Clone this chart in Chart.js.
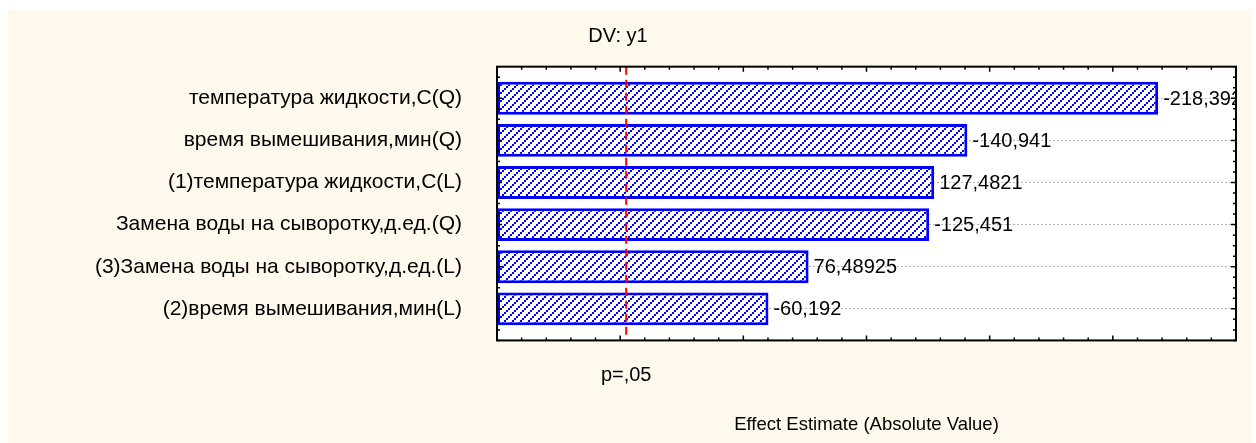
<!DOCTYPE html>
<html>
<head>
<meta charset="utf-8">
<script src="https://cdn.jsdelivr.net/npm/chart.js@4.4.1/dist/chart.umd.min.js"></script>
<style>
  html, body { margin: 0; padding: 0; background: #ffffff; }
  #wrap { width: 1256px; height: 443px; position: relative; }
</style>
</head>
<body>
<div id="wrap"><canvas id="c" width="1256" height="443"></canvas></div>
<script>
// ---- data ----
const categories = [
  'температура жидкости,С(Q)',
  'время вымешивания,мин(Q)',
  '(1)температура жидкости,С(L)',
  'Замена воды на сыворотку,д.ед.(Q)',
  '(3)Замена воды на сыворотку,д.ед.(L)',
  '(2)время вымешивания,мин(L)'
];
const effects = [-218.392, -140.941, 127.4821, -125.451, 76.48925, -60.192];
const absEffects = effects.map(v => Math.abs(v));
const valueLabels = effects.map(v => String(v).replace('.', ','));
const pCritical = 2.447;
const pLabel = 'p=,05';
const chartTitle = 'DV: y1';
const xTitle = 'Effect Estimate (Absolute Value)';
const xMin = -50, xMax = 250;

const FONT = '"Liberation Sans", Arial, sans-serif';

// hatch pattern
function makeHatch() {
  const t = document.createElement('canvas');
  t.width = 8; t.height = 8;
  const g = t.getContext('2d');
  g.fillStyle = '#ffffff';
  g.fillRect(0, 0, 8, 8);
  g.fillStyle = '#0000ff';
  for (let y = 0; y < 8; y++) {
    for (let x = 0; x < 8; x++) {
      if ((Math.floor(x / 2) + Math.floor(y / 2)) % 4 === 0) g.fillRect(x, y, 1, 1);
    }
  }
  return document.getElementById('c').getContext('2d').createPattern(t, 'repeat');
}

const decorPlugin = {
  id: 'decor',
  beforeDraw(chart) {
    const ctx = chart.ctx;
    const xs = chart.scales.x, ys = chart.scales.y;
    ctx.save();
    ctx.fillStyle = '#ffffff';
    ctx.fillRect(0, 0, chart.width, chart.height);
    ctx.fillStyle = '#fff9ed';
    ctx.fillRect(8, 10, 1243, 433);
    const L = xs.getPixelForValue(xMin), R = xs.getPixelForValue(xMax);
    const T = ys.getPixelForValue(-0.75), B = ys.getPixelForValue(categories.length - 0.25);
    ctx.fillStyle = '#ffffff';
    ctx.fillRect(L, T, R - L, B - T);
    ctx.restore();
  },
  afterDatasetsDraw(chart) {
    const ctx = chart.ctx;
    const xs = chart.scales.x, ys = chart.scales.y;
    const L = xs.getPixelForValue(xMin), R = xs.getPixelForValue(xMax);
    const T = ys.getPixelForValue(-0.75), B = ys.getPixelForValue(categories.length - 0.25);
    ctx.save();
    // value labels (clipped to frame)
    ctx.beginPath();
    ctx.rect(L, T, R - L, B - T);
    ctx.clip();
    ctx.fillStyle = '#000000';
    ctx.font = '20px ' + FONT;
    ctx.textAlign = 'left';
    ctx.textBaseline = 'middle';
    absEffects.forEach((v, i) => {
      ctx.fillText(valueLabels[i], xs.getPixelForValue(v) + 5, ys.getPixelForValue(i) + 1);
    });
    // p line
    const px = xs.getPixelForValue(pCritical);
    ctx.strokeStyle = '#ff0000';
    ctx.lineWidth = 2;
    ctx.setLineDash([8, 5]);
    ctx.beginPath();
    ctx.moveTo(px, T);
    ctx.lineTo(px, B);
    ctx.stroke();
    ctx.restore();

    ctx.save();
    ctx.setLineDash([]);
    // frame
    ctx.strokeStyle = '#000000';
    ctx.lineWidth = 2;
    ctx.strokeRect(L, T, R - L, B - T);
    // ticks
    ctx.lineWidth = 1.5;
    ctx.beginPath();
    for (let v = xMin; v <= xMax; v += 10) {
      const x = xs.getPixelForValue(v);
      const len = (v % 50 === 0) ? 5 : 3;
      ctx.moveTo(x, B); ctx.lineTo(x, B - len);
      ctx.moveTo(x, T); ctx.lineTo(x, T + len);
    }
    for (let k = -3; k <= (categories.length - 1) * 4 + 3; k++) {
      const y = ys.getPixelForValue(k / 4);
      const len = (k % 4 === 0) ? 5 : 3;
      ctx.moveTo(L, y); ctx.lineTo(L + len, y);
      ctx.moveTo(R, y); ctx.lineTo(R - len, y);
    }
    ctx.stroke();
    // p label
    ctx.fillStyle = '#000000';
    ctx.font = '20px ' + FONT;
    ctx.textAlign = 'center';
    ctx.textBaseline = 'middle';
    ctx.fillText(pLabel, px, 375);
    ctx.restore();
  }
};

const chart = new Chart(document.getElementById('c'), {
  type: 'bar',
  data: {
    labels: categories,
    datasets: [{
      data: absEffects,
      base: xMin,
      backgroundColor: makeHatch(),
      borderColor: '#0000ff',
      borderWidth: 3,
      borderSkipped: false,
      categoryPercentage: 1.0,
      barPercentage: 0.78
    }]
  },
  options: {
    indexAxis: 'y',
    responsive: false,
    animation: false,
    devicePixelRatio: 1,
    layout: { padding: { left: 0, right: 20, top: 0, bottom: 0 } },
    plugins: {
      legend: { display: false },
      tooltip: { enabled: false },
      title: {
        display: true,
        text: chartTitle,
        color: '#000000',
        font: { family: FONT, size: 20, weight: 'normal' },
        padding: { top: 24.6, bottom: 28.6 }
      }
    },
    scales: {
      x: {
        type: 'linear',
        min: xMin,
        max: xMax,
        border: { display: false },
        grid: { display: false, drawTicks: false },
        ticks: { display: false },
        title: {
          display: true,
          text: xTitle,
          color: '#000000',
          font: { family: FONT, size: 18.5 },
          padding: { top: 0, bottom: 7 }
        },
        afterFit(s) { s.height = 113.1; }
      },
      y: {
        type: 'category',
        offset: true,
        border: { display: false, dash: [2, 2] },
        grid: {
          offset: false,
          drawTicks: false,
          color: '#b4b4b4',
          lineWidth: 1
        },
        ticks: {
          color: '#000000',
          font: { family: FONT, size: 21 },
          padding: 35
        },
        afterFit(s) { s.width = 497; }
      }
    }
  },
  plugins: [decorPlugin]
});
</script>
</body>
</html>
